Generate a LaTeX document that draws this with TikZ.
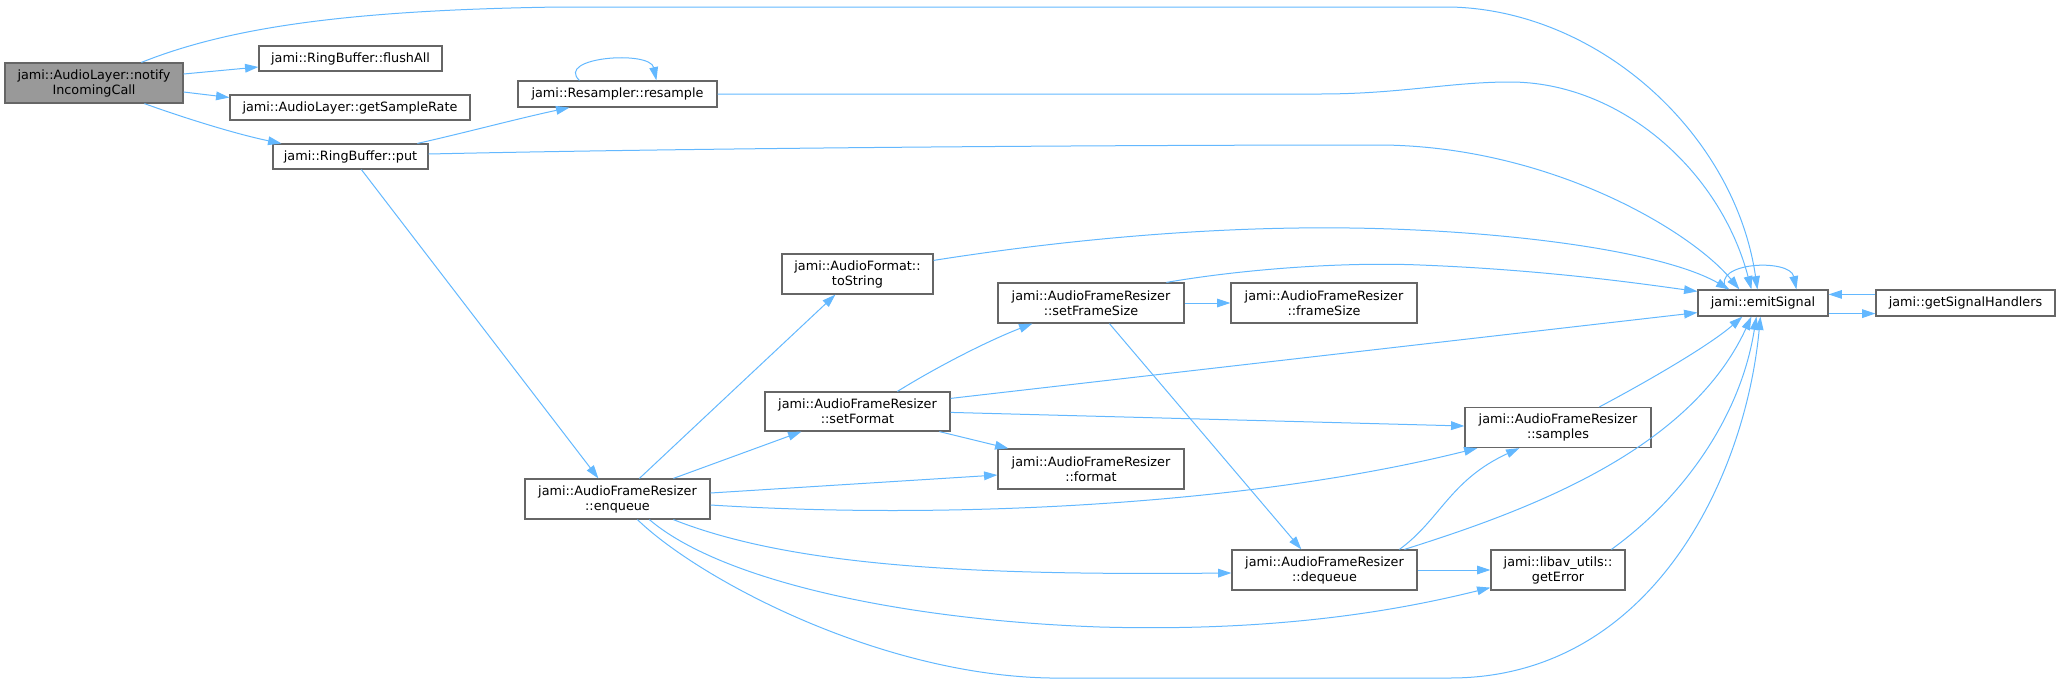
\documentclass[tikz,border=0pt]{standalone}
\usepackage{fontspec}
\setmainfont{DejaVu Sans}
\usetikzlibrary{arrows.meta,calc}
\definecolor{edgeblue}{HTML}{63B8FF}
\definecolor{boxborder}{HTML}{666666}
\definecolor{rootfill}{HTML}{999999}
\tikzset{
  box/.style 2 args={draw=boxborder, line width=0.9pt, fill=white, inner sep=0pt, align=center,
    font=\fontsize{9.6}{11.25}\selectfont, minimum width=#1*0.75pt, minimum height=#2*0.75pt},
  rootbox/.style={fill=rootfill},
  edge/.style={draw=edgeblue, line width=0.75pt, -{Triangle[length=10pt,width=6.5pt]}}
}
\begin{document}
\begin{tikzpicture}[x=0.75pt,y=-0.75pt]
\useasboundingbox (0,0) rectangle (2060,686);
% nodes
\node[box={178}{40},rootbox] (notify) at (94,83) {jami::AudioLayer::notify\\IncomingCall};
\node[box={183}{25}] (flushAll) at (350.5,58.5) {jami::RingBuffer::flushAll};
\node[box={240}{25}] (getSampleRate) at (350,107.5) {jami::AudioLayer::getSampleRate};
\node[box={155}{25}] (put) at (350.5,156.5) {jami::RingBuffer::put};
\node[box={199}{26}] (resample) at (617.5,94) {jami::Resampler::resample};
\node[box={185}{40}] (enqueue) at (617.5,499) {jami::AudioFrameResizer\\::enqueue};
\node[box={151}{40}] (toString) at (857.5,274) {jami::AudioFormat::\\toString};
\node[box={185}{39}] (setFormat) at (857.5,411.5) {jami::AudioFrameResizer\\::setFormat};
\node[box={186}{40}] (setFrameSize) at (1091,303) {jami::AudioFrameResizer\\::setFrameSize};
\node[box={186}{40}] (format) at (1091,469) {jami::AudioFrameResizer\\::format};
\node[box={186}{40}] (frameSize) at (1324,303) {jami::AudioFrameResizer\\::frameSize};
\node[box={185}{40}] (dequeue) at (1324.5,570) {jami::AudioFrameResizer\\::dequeue};
\node[box={186}{40}] (samples) at (1558,427.5) {jami::AudioFrameResizer\\::samples};
\node[box={134}{40}] (getError) at (1558,570) {jami::libav\_utils::\\getError};
\node[box={130}{26}] (emitSignal) at (1763,303) {jami::emitSignal};
\node[box={179}{26}] (getSignalHandlers) at (1965.5,303) {jami::getSignalHandlers};
% edges from notify
\draw[edge] ($(notify.north west)+(137,0)$) .. controls (230,27) and (350,10) .. (560,7)
  -- (1450,7) .. controls (1600,10) and (1735,135) .. ($(emitSignal.north west)+(60,0)$);
\draw[edge] ($(notify.east)+(0,-9)$) -- ($(flushAll.west)+(0,8.5)$);
\draw[edge] ($(notify.east)+(0,9)$) -- ($(getSampleRate.west)+(0,-10)$);
\draw[edge] ($(notify.south west)+(140,0)$) .. controls (190,120) and (240,135) .. ($(put.north west)+(9,0)$);
% edges from put
\draw[edge] ($(put.north west)+(145,0)$) .. controls (460,134) and (520,118) .. ($(resample.south west)+(52,0)$);
\draw[edge] ($(put.east)+(0,-2.5)$) .. controls (700,148) and (1100,145) .. (1383,145)
  .. controls (1550,147) and (1690,230) .. ($(emitSignal.north west)+(42,0)$);
\draw[edge] ($(put.south west)+(89,0)$) -- ($(enqueue.north west)+(74,0)$);
% resample
\draw[edge] ($(resample.north west)+(62,0)$) .. controls (555,57) and (650,50) .. ($(resample.north west)+(139,0)$);
\draw[edge] (resample.east) -- (1320,94) .. controls (1400,94) and (1450,82) .. (1510,82)
  .. controls (1620,82) and (1720,170) .. ($(emitSignal.north west)+(54,0)$);
% enqueue
\draw[edge] ($(enqueue.north west)+(115,0)$) -- ($(toString.south west)+(54,0)$);
\draw[edge] ($(enqueue.north west)+(149,0)$) -- ($(setFormat.south west)+(37,0)$);
\draw[edge] ($(enqueue.east)+(0,-6)$) -- ($(format.west)+(0,6)$);
\draw[edge] ($(enqueue.east)+(0,6)$) .. controls (950,520) and (1250,505) .. ($(samples.south west)+(13,0)$);
\draw[edge] ($(enqueue.south west)+(149,0)$) .. controls (800,570) and (1000,575) .. ($(dequeue.west)+(0,3)$);
\draw[edge] ($(enqueue.south west)+(125,0)$) .. controls (720,580) and (900,620) .. (1100,627)
  .. controls (1280,632) and (1400,610) .. ($(getError.south west)+(0,-3)$);
\draw[edge] ($(enqueue.south west)+(113,0)$) .. controls (700,580) and (880,675) .. (1050,678)
  -- (1450,678) .. controls (1650,678) and (1745,480) .. ($(emitSignal.south west)+(63,0)$);
% toString
\draw[edge] ($(toString.north east)+(0,7)$) .. controls (1050,242) and (1200,226) .. (1350,228)
  .. controls (1500,230) and (1660,250) .. ($(emitSignal.north west)+(32,0)$);
% setFormat
\draw[edge] ($(setFormat.north west)+(133,0)$) .. controls (940,365) and (990,340) .. ($(setFrameSize.south west)+(35,0)$);
\draw[edge] ($(setFormat.north east)+(0,7)$) -- ($(emitSignal.south west)+(0,-4)$);
\draw[edge] ($(setFormat.north east)+(0,21)$) -- ($(samples.west)+(0,-1.5)$);
\draw[edge] ($(setFormat.south west)+(175,0)$) -- ($(format.north west)+(11,0)$);
% setFrameSize
\draw[edge] (setFrameSize.east) -- (frameSize.west);
\draw[edge] ($(setFrameSize.north west)+(169,0)$) .. controls (1250,268) and (1350,262) .. (1420,265)
  .. controls (1550,270) and (1650,285) .. ($(emitSignal.north west)+(0,2)$);
\draw[edge] ($(setFrameSize.south west)+(112,0)$) -- ($(dequeue.north west)+(70,0)$);
% dequeue
\draw[edge] ($(dequeue.north west)+(168,0)$) .. controls (1440,520) and (1450,480) .. ($(samples.south west)+(55,0)$);
\draw[edge] ($(dequeue.north west)+(173,0)$) .. controls (1530,510) and (1690,450) .. ($(emitSignal.south west)+(54,0)$);
\draw[edge] (dequeue.east) -- (getError.west);
% samples, getError
\draw[edge] ($(samples.north west)+(135,0)$) .. controls (1650,380) and (1710,345) .. ($(emitSignal.south west)+(45,0)$);
\draw[edge] ($(getError.north west)+(121,0)$) .. controls (1680,500) and (1740,420) .. ($(emitSignal.south west)+(59,0)$);
% emitSignal
\draw[edge] ($(emitSignal.north west)+(29,0)$) .. controls (1710,262) and (1790,258) .. ($(emitSignal.north west)+(99,0)$);
\draw[edge] ($(emitSignal.south east)+(0,-3)$) -- ($(getSignalHandlers.south west)+(0,-3)$);
\draw[edge] ($(getSignalHandlers.north west)+(0,5)$) -- ($(emitSignal.north east)+(0,5)$);
\end{tikzpicture}
\end{document}
